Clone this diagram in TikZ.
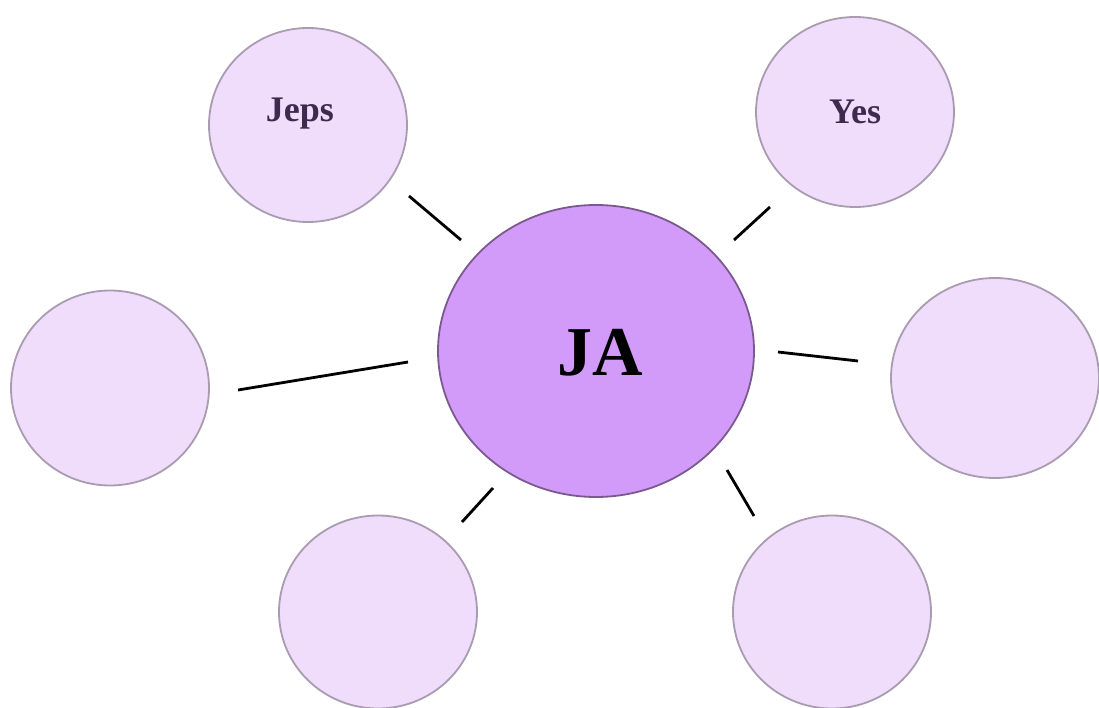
\documentclass[tikz,border=0pt]{standalone}
\usepackage{fontspec}
\setmainfont{Liberation Serif}
\usetikzlibrary{shapes.geometric}
\definecolor{centfill}{HTML}{D39BF9}
\definecolor{centedge}{HTML}{7A5A8E}
\definecolor{smallfill}{HTML}{EFDDFB}
\definecolor{smalledge}{HTML}{A99BB0}
\definecolor{labtext}{HTML}{3F2A4F}
\tikzset{
  bubble/.style={ellipse, draw=smalledge, line width=1.8pt, fill=smallfill, inner sep=0pt},
  hub/.style={ellipse, draw=centedge, line width=1.8pt, fill=centfill, inner sep=0pt},
  link/.style={line width=2.8pt, black},
  smalllab/.style={text=labtext, font=\bfseries\fontsize{36}{36}\selectfont},
}
\begin{document}
\begin{tikzpicture}[x=1pt,y=-1pt]
\useasboundingbox (0,0) rectangle (1099,708);
% center
\node[hub, minimum width=316pt, minimum height=292pt] (c) at (596,351) {};
\node[font=\bfseries\fontsize{70}{70}\selectfont] (ja) at (600,353) {JA};
% small bubbles
\node[bubble, minimum width=198pt, minimum height=194pt] (b1) at (308,125) {};
\node[bubble, minimum width=198pt, minimum height=190pt] (b2) at (855,112) {};
\node[bubble, minimum width=198pt, minimum height=195pt] (b3) at (110,388) {};
\node[bubble, minimum width=208pt, minimum height=200pt] (b4) at (995,378) {};
\node[bubble, minimum width=198pt, minimum height=193pt] (b5) at (378,612) {};
\node[bubble, minimum width=198pt, minimum height=193pt] (b6) at (832,612) {};
\node[smalllab] (t1) at (300,114) {Jeps};
\node[smalllab] (t2) at (855,112) {Yes};
% connector ends
\coordinate (a1) at (409,196); \coordinate (c1) at (461,240);
\coordinate (a2) at (770,207); \coordinate (c2) at (734,240);
\coordinate (a3) at (238,390); \coordinate (c3) at (408,362);
\coordinate (a4) at (858,361); \coordinate (c4) at (778,352);
\coordinate (a5) at (462,522); \coordinate (c5) at (493,488);
\coordinate (a6) at (754,516); \coordinate (c6) at (727,470);
\draw[link] (a1) -- (c1);
\draw[link] (a2) -- (c2);
\draw[link] (a3) -- (c3);
\draw[link] (a4) -- (c4);
\draw[link] (a5) -- (c5);
\draw[link] (a6) -- (c6);
\end{tikzpicture}
\end{document}
